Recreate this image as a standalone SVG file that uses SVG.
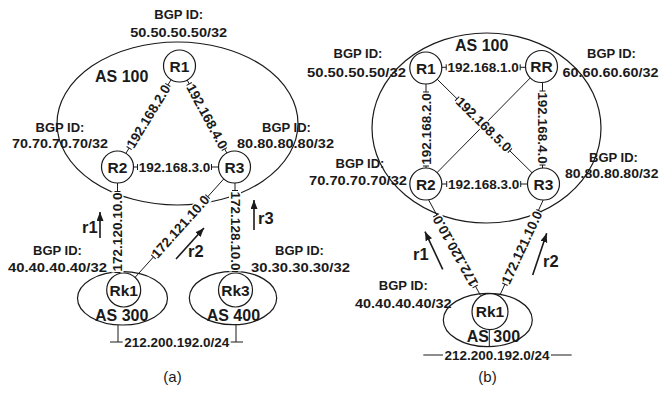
<svg xmlns="http://www.w3.org/2000/svg" width="661" height="394" viewBox="0 0 661 394">
<style>
text { font-family: "Liberation Sans", Arial, sans-serif; fill: #1a1a1a; }
.b { font-weight: bold; font-size: 13px; text-anchor: middle; }
.n { font-weight: bold; font-size: 13.5px; text-anchor: middle; }
.lk { font-weight: bold; font-size: 13.5px; text-anchor: middle; dominant-baseline: central; }
.rt { font-weight: bold; font-size: 15.5px; text-anchor: middle; dominant-baseline: central; }
.as { font-weight: bold; font-size: 16px; }
.r { font-weight: bold; font-size: 16.5px; }
.cap { font-size: 15px; text-anchor: middle; }
.ln { stroke: #1a1a1a; stroke-width: 1; fill: none; }
.el { stroke: #1a1a1a; stroke-width: 1.2; fill: none; }
.nd { stroke: #1a1a1a; stroke-width: 1.2; fill: #fff; }
.bg { fill: #fff; }
.arr { stroke: #1a1a1a; stroke-width: 1.6; fill: none; marker-end: url(#ah); }
</style>
<defs>
<marker id="ah" markerUnits="userSpaceOnUse" markerWidth="10" markerHeight="8" refX="9" refY="3.5" orient="auto">
<path d="M0,0 L9,3.5 L0,7 z" fill="#1a1a1a"/>
</marker>
</defs>

<!-- ============ (a) ============ -->
<g id="as100-a"><ellipse class="el" cx="177.5" cy="123.5" rx="120.5" ry="81.5"/></g>
<g id="as300-a"><ellipse class="el" cx="122.5" cy="298.3" rx="45" ry="26.7"/></g>
<g id="as400-a"><ellipse class="el" cx="233" cy="298" rx="43.7" ry="26.7"/></g>

<g id="connectors-a">
<path class="ln" d="M179.5,66 L117.5,167"/>
<path class="ln" d="M179.5,66 L234.5,167"/>
<path class="ln" d="M117.5,167 H234.5"/>
<path class="ln" d="M117.5,170 V272"/>
<path class="ln" d="M123.7,290 L234.5,167"/>
<path class="ln" d="M235,170 V271.5"/>
<path class="ln" d="M118,325 V342 M110,342 H243 M236,324.7 V342"/>
<path class="arr" d="M100,238 V212"/>
<path class="arr" d="M254,230 V200"/>
<path class="arr" d="M176,259 L204,228"/>
</g>

<g id="R1-a"><circle class="nd" cx="179.5" cy="66" r="16"/><text class="rt" x="179.5" y="66">R1</text></g>
<g id="R2-a"><circle class="nd" cx="117.5" cy="167" r="16"/><text class="rt" x="117.5" y="167">R2</text></g>
<g id="R3-a"><circle class="nd" cx="234.5" cy="167" r="16"/><text class="rt" x="234.5" y="167">R3</text></g>
<g id="Rk1-a"><circle class="nd" cx="123.7" cy="290" r="17"/><text class="rt" x="123.7" y="290">Rk1</text></g>
<g id="Rk3-a"><circle class="nd" cx="235.5" cy="290" r="17"/><text class="rt" x="235.5" y="290">Rk3</text></g>

<g id="labels-a">
<g transform="translate(148.5,116.5) rotate(-58.5)"><rect class="bg" x="-37" y="-6" width="74" height="12"/><path class="ln" d="M-37,-3v6M37,-3v6"/><text class="lk">192.168.2.0</text></g>
<g transform="translate(206.8,116.5) rotate(61.6)"><rect class="bg" x="-37" y="-6" width="74" height="12"/><path class="ln" d="M-37,-3v6M37,-3v6"/><text class="lk">192.168.4.0</text></g>
<g transform="translate(174.5,167)"><rect class="bg" x="-37" y="-6" width="74" height="12"/><path class="ln" d="M-37,-3v6M37,-3v6"/><text class="lk">192.168.3.0</text></g>
<g transform="translate(117.5,232) rotate(-90)"><rect class="bg" x="-40.5" y="-6" width="81" height="12"/><path class="ln" d="M-40.5,-3v6M40.5,-3v6"/><text class="lk">172.120.10.0</text></g>
<g transform="translate(180.5,226.8) rotate(-48.1)"><rect class="bg" x="-40.5" y="-6" width="81" height="12"/><path class="ln" d="M-40.5,-3v6M40.5,-3v6"/><text class="lk">172.121.10.0</text></g>
<g transform="translate(235,231) rotate(90)"><rect class="bg" x="-40.5" y="-6" width="81" height="12"/><path class="ln" d="M-40.5,-3v6M40.5,-3v6"/><text class="lk">172.128.10.0</text></g>
<g transform="translate(176.7,342)"><rect class="bg" x="-54" y="-6" width="108" height="12"/><text class="lk">212.200.192.0/24</text></g>
</g>

<g id="text-a">
<text class="b" x="178.7" y="19.3">BGP ID:</text>
<text class="n" x="178.7" y="36.7" textLength="97" lengthAdjust="spacingAndGlyphs">50.50.50.50/32</text>
<text class="b" x="60" y="131.7">BGP ID:</text>
<text class="n" x="60" y="148" textLength="96" lengthAdjust="spacingAndGlyphs">70.70.70.70/32</text>
<text class="b" x="286.5" y="131.7">BGP ID:</text>
<text class="n" x="285.5" y="148" textLength="97" lengthAdjust="spacingAndGlyphs">80.80.80.80/32</text>
<text class="b" x="57.5" y="255">BGP ID:</text>
<text class="n" x="57.5" y="272" textLength="99" lengthAdjust="spacingAndGlyphs">40.40.40.40/32</text>
<text class="b" x="299.5" y="255">BGP ID:</text>
<text class="n" x="300.5" y="272" textLength="99" lengthAdjust="spacingAndGlyphs">30.30.30.30/32</text>
<text class="as" x="95" y="82">AS 100</text>
<text class="as" x="95" y="321">AS 300</text>
<text class="as" x="206.7" y="321">AS 400</text>
<text class="r" x="82" y="233">r1</text>
<text class="r" x="188" y="257">r2</text>
<text class="r" x="258" y="224">r3</text>
<text class="cap" x="172.5" y="382">(a)</text>
</g>

<!-- ============ (b) ============ -->
<g id="as100-b"><ellipse class="el" cx="486.5" cy="128" rx="114.5" ry="95"/></g>
<g id="as300-b"><ellipse class="el" cx="487.8" cy="320" rx="44.5" ry="26.7"/></g>

<g id="connectors-b">
<path class="ln" d="M426,67.3 H541.5"/>
<path class="ln" d="M426,68 V184"/>
<path class="ln" d="M542.5,66.5 V184"/>
<path class="ln" d="M426,184 H543.5"/>
<path class="ln" d="M425.8,68 L543.5,184"/>
<path class="ln" d="M541.5,66.5 L425.8,184"/>
<path class="ln" d="M426.5,196 L480.5,295.5"/>
<path class="ln" d="M545,196 L500,295"/>
<path class="ln" d="M423.3,355 H571.7"/>
<path class="arr" d="M442.7,269.3 L425,231.7"/>
<path class="arr" d="M532.7,275 L546.7,233.3"/>
</g>

<g id="R1-b"><circle class="nd" cx="425.8" cy="68" r="16"/><text class="rt" x="425.8" y="68">R1</text></g>
<g id="RR-b"><circle class="nd" cx="541.5" cy="66.5" r="16"/><text class="rt" x="541.5" y="66.5">RR</text></g>
<g id="R2-b"><circle class="nd" cx="425.8" cy="184" r="16"/><text class="rt" x="425.8" y="184">R2</text></g>
<g id="R3-b"><circle class="nd" cx="543.5" cy="184" r="16"/><text class="rt" x="543.5" y="184">R3</text></g>
<g id="Rk1-b"><circle class="nd" cx="490" cy="311.7" r="18"/><text class="rt" x="490" y="311.7">Rk1</text></g>

<g id="labels-b">
<g transform="translate(483.2,67.3)"><rect class="bg" x="-37" y="-6" width="74" height="12"/><path class="ln" d="M-37,-3v6M37,-3v6"/><text class="lk">192.168.1.0</text></g>
<g transform="translate(483.7,184)"><rect class="bg" x="-37" y="-6" width="74" height="12"/><path class="ln" d="M-37,-3v6M37,-3v6"/><text class="lk">192.168.3.0</text></g>
<g transform="translate(426,129) rotate(-90)"><rect class="bg" x="-37" y="-6" width="74" height="12"/><path class="ln" d="M-37,-3v6M37,-3v6"/><text class="lk">192.168.2.0</text></g>
<g transform="translate(542.5,128) rotate(90)"><rect class="bg" x="-37" y="-6" width="74" height="12"/><path class="ln" d="M-37,-3v6M37,-3v6"/><text class="lk">192.168.4.0</text></g>
<g transform="translate(483.5,124.6) rotate(44.5)"><rect class="bg" x="-37" y="-6" width="74" height="12"/><path class="ln" d="M-37,-3v6M37,-3v6"/><text class="lk">192.168.5.0</text></g>
<g transform="translate(455.5,251) rotate(-119)"><rect class="bg" x="-40.5" y="-6" width="81" height="12"/><path class="ln" d="M-40.5,-3v6M40.5,-3v6"/><text class="lk">172.120.10.0</text></g>
<g transform="translate(522,247.5) rotate(-65.1)"><rect class="bg" x="-40.5" y="-6" width="81" height="12"/><path class="ln" d="M-40.5,-3v6M40.5,-3v6"/><text class="lk">172.121.10.0</text></g>
<g transform="translate(497,355)"><rect class="bg" x="-54" y="-6" width="108" height="12"/><text class="lk">212.200.192.0/24</text></g>
</g>

<g id="text-b">
<text class="b" x="358" y="58.3">BGP ID:</text>
<text class="n" x="356.5" y="76.7" textLength="99" lengthAdjust="spacingAndGlyphs">50.50.50.50/32</text>
<text class="b" x="611.5" y="58.3">BGP ID:</text>
<text class="n" x="610.5" y="76.7" textLength="96" lengthAdjust="spacingAndGlyphs">60.60.60.60/32</text>
<text class="b" x="360" y="168.3">BGP ID:</text>
<text class="n" x="358" y="185" textLength="98" lengthAdjust="spacingAndGlyphs">70.70.70.70/32</text>
<text class="b" x="613.5" y="161.7">BGP ID:</text>
<text class="n" x="611.7" y="178.3" textLength="93.5" lengthAdjust="spacingAndGlyphs">80.80.80.80/32</text>
<text class="b" x="403.3" y="290">BGP ID:</text>
<text class="n" x="403.3" y="308.3" textLength="96.7" lengthAdjust="spacingAndGlyphs">40.40.40.40/32</text>
<text class="as" x="455" y="51">AS 100</text>
<text class="as" x="466.7" y="341.7">AS 300</text>
<text class="r" x="413" y="260">r1</text>
<text class="r" x="543" y="266.7">r2</text>
<text class="cap" x="487.5" y="381.7">(b)</text>
</g>
<path class="ln" d="M489.3,329.7 V346.7"/>
</svg>
